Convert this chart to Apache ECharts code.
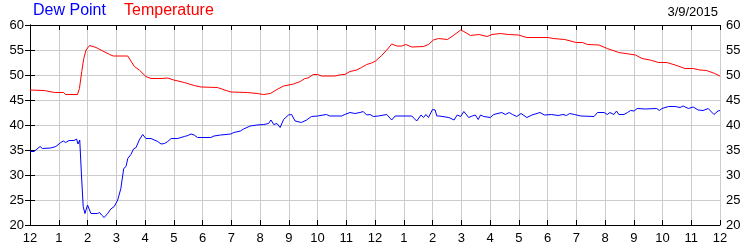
<!DOCTYPE html>
<html>
<head>
<meta charset="utf-8">
<script src="https://cdn.jsdelivr.net/npm/echarts@6/dist/echarts.min.js"></script>
<style>html,body{margin:0;padding:0;background:#fff}#c{width:750px;height:250px}</style>
</head>
<body>
<div id="c"></div>
<script>
const hourLabels = ['12','1','2','3','4','5','6','7','8','9','10','11','12','1','2','3','4','5','6','7','8','9','10','11','12'];
const yTicks = [20,25,30,35,40,45,50,55,60];
const dateText = '3/9/2015';

const tempHours = [0,0.5,0.85,1.16,1.24,1.65,1.72,1.8,1.87,1.95,2.07,2.1,2.3,2.53,2.77,2.9,3.4,3.63,3.8,4.03,4.21,4.56,4.79,5.0,5.37,5.71,5.95,6.52,6.82,6.99,7.56,7.9,8.13,8.36,8.59,8.82,9.17,9.4,9.56,9.67,9.85,10.0,10.14,10.6,10.84,10.95,11.13,11.36,11.53,11.71,11.88,12.02,12.23,12.41,12.58,12.76,12.93,13.07,13.28,13.69,13.86,14.03,14.21,14.52,14.75,14.98,15.09,15.32,15.61,15.9,16.07,16.36,16.64,16.99,17.28,18.02,18.2,18.6,19.0,19.22,19.39,19.79,20.08,20.48,20.83,21.06,21.29,21.57,21.86,22.15,22.44,22.78,23.07,23.3,23.53,23.82,24];
const tempValues = [47.0,46.9,46.5,46.5,46.1,46.1,47.3,50.7,53.3,55.0,55.9,56.0,55.5,54.8,54.1,53.8,53.8,51.7,51.0,49.7,49.3,49.3,49.4,49.0,48.5,47.9,47.6,47.5,46.9,46.6,46.5,46.3,46.1,46.3,47.1,47.8,48.2,48.7,49.3,49.4,50.1,50.1,49.8,49.8,50.1,50.1,50.7,51.0,51.5,52.1,52.4,52.8,53.9,55.0,56.2,55.8,55.8,56.1,55.6,55.7,56.1,57.0,57.3,57.1,58.0,59.0,58.7,57.9,58.1,57.7,58.1,58.3,58.1,58.0,57.5,57.5,57.3,57.1,56.5,56.5,56.1,56.0,55.3,54.5,54.2,54.0,53.3,53.0,52.5,52.5,52.0,51.3,51.3,51.0,50.9,50.3,49.8];

const dewHours = [0,0.14,0.35,0.43,0.72,0.9,1.07,1.16,1.24,1.36,1.53,1.62,1.67,1.73,1.79,1.85,1.91,2.0,2.12,2.35,2.42,2.49,2.58,2.7,2.81,2.93,3.05,3.16,3.26,3.34,3.4,3.51,3.6,3.69,3.8,3.92,4.03,4.21,4.44,4.56,4.68,4.79,4.91,5.14,5.25,5.37,5.43,5.49,5.6,5.71,5.83,6.29,6.4,6.63,6.69,6.98,7.09,7.32,7.43,7.66,7.89,8.13,8.3,8.38,8.48,8.59,8.7,8.82,8.99,9.1,9.22,9.44,9.62,9.79,10.0,10.31,10.43,10.84,10.95,11.13,11.3,11.48,11.59,11.71,11.83,11.94,12.12,12.41,12.58,12.7,13.28,13.45,13.6,13.69,13.77,13.86,14.0,14.09,14.15,14.23,14.57,14.75,14.86,14.98,15.09,15.26,15.38,15.49,15.59,15.67,15.78,15.84,16.01,16.13,16.41,16.53,16.67,16.78,16.93,17.08,17.28,17.46,17.74,17.89,18.14,18.2,18.37,18.54,18.66,18.77,18.94,19.0,19.16,19.62,19.74,19.97,20.02,20.08,20.17,20.31,20.4,20.48,20.66,20.78,20.89,21.01,21.12,21.4,21.8,21.89,21.98,22.21,22.44,22.61,22.72,22.9,23.07,23.24,23.41,23.59,23.79,23.93,24];
const dewValues = [34.7,34.7,35.7,35.3,35.4,35.7,36.5,36.8,36.5,36.9,36.9,37.2,36.2,37.0,30.0,23.7,22.3,24.0,22.3,22.3,22.5,22.0,21.5,22.3,23.2,23.7,25.0,27.3,31.3,31.7,33.3,34.1,35.2,35.5,37.0,38.1,37.3,37.3,36.7,36.2,36.3,36.7,37.3,37.3,37.5,37.7,37.3,37.9,38.2,38.0,37.5,37.5,37.8,38.0,38.3,38.2,38.5,38.8,39.2,39.8,40.0,40.1,40.3,41.0,40.1,40.3,39.5,41.1,42.0,42.1,40.8,40.5,41.0,41.7,41.8,42.1,41.8,41.8,42.1,42.5,42.3,42.5,42.7,42.0,42.1,41.7,41.8,42.1,41.0,41.8,41.8,40.8,42.0,41.5,42.1,41.5,43.1,43.0,41.8,41.8,41.5,41.0,42.0,41.7,42.7,41.5,41.8,42.0,41.1,42.0,41.7,42.1,41.5,42.1,42.5,42.1,42.5,42.1,41.7,42.3,41.5,42.0,42.5,42.0,42.1,41.9,41.9,42.1,41.9,42.3,42.1,42.1,41.8,41.7,42.5,42.5,42.9,42.1,42.5,42.1,42.8,42.1,42.1,42.5,42.9,42.8,43.3,43.2,43.3,42.9,43.3,43.7,43.7,43.5,43.8,43.3,43.6,43.0,42.9,43.3,42.1,42.8,42.9];

const pairs = (xs, ys) => xs.map((x, i) => [x, ys[i]]);
const FONT = 'Liberation Sans, Arial, sans-serif';

const chart = echarts.init(document.getElementById('c'), null, {renderer: 'canvas'});
const yCommon = {
  type: 'value', min: yTicks[0], max: yTicks[yTicks.length - 1], interval: 5,
  axisLine: {show: true, lineStyle: {color: '#000', width: 1}},
  axisTick: {show: true, inside: true, length: 5, lineStyle: {color: '#000'}},
  axisLabel: {color: '#000', fontSize: 13, fontFamily: FONT, margin: 6},
};
const xCommon = {
  type: 'value', min: 0, max: 24, interval: 1,
  axisLine: {show: true, onZero: false, lineStyle: {color: '#000', width: 1}},
  axisTick: {show: true, inside: true, length: 5, lineStyle: {color: '#000'}},
};
chart.setOption({
  animation: false,
  backgroundColor: '#fff',
  grid: {left: 30, right: 30, top: 25, bottom: 25, containLabel: false},
  xAxis: [
    Object.assign({}, xCommon, {
      position: 'bottom',
      splitLine: {show: true, lineStyle: {color: '#cccccc', width: 1}},
      axisLabel: {color: '#000', fontSize: 13, fontFamily: FONT, margin: 7,
        showMinLabel: true, showMaxLabel: true,
        formatter: v => hourLabels[Math.round(v)]}
    }),
    Object.assign({}, xCommon, {
      position: 'top', splitLine: {show: false}, axisLabel: {show: false}
    })
  ],
  yAxis: [
    Object.assign({}, yCommon, {position: 'left',
      splitLine: {show: true, lineStyle: {color: '#cccccc', width: 1}}}),
    Object.assign({}, yCommon, {position: 'right', splitLine: {show: false}})
  ],
  graphic: [
    {type: 'text', left: 33, top: 3, style: {text: 'Dew Point', fill: '#0000ff', font: '16px ' + FONT}},
    {type: 'text', left: 124, top: 3, style: {text: 'Temperature', fill: '#ff0000', font: '16px ' + FONT}},
    {type: 'text', right: 32, top: 6, style: {text: dateText, fill: '#000', font: '13px ' + FONT}}
  ],
  series: [
    {type: 'line', name: 'Temperature', data: pairs(tempHours, tempValues), showSymbol: false,
      xAxisIndex: 0, yAxisIndex: 0, lineStyle: {color: '#ff0000', width: 1}, itemStyle: {color: '#ff0000'}},
    {type: 'line', name: 'Dew Point', data: pairs(dewHours, dewValues), showSymbol: false,
      xAxisIndex: 0, yAxisIndex: 0, lineStyle: {color: '#0000ff', width: 1}, itemStyle: {color: '#0000ff'}}
  ]
});
</script>
</body>
</html>
